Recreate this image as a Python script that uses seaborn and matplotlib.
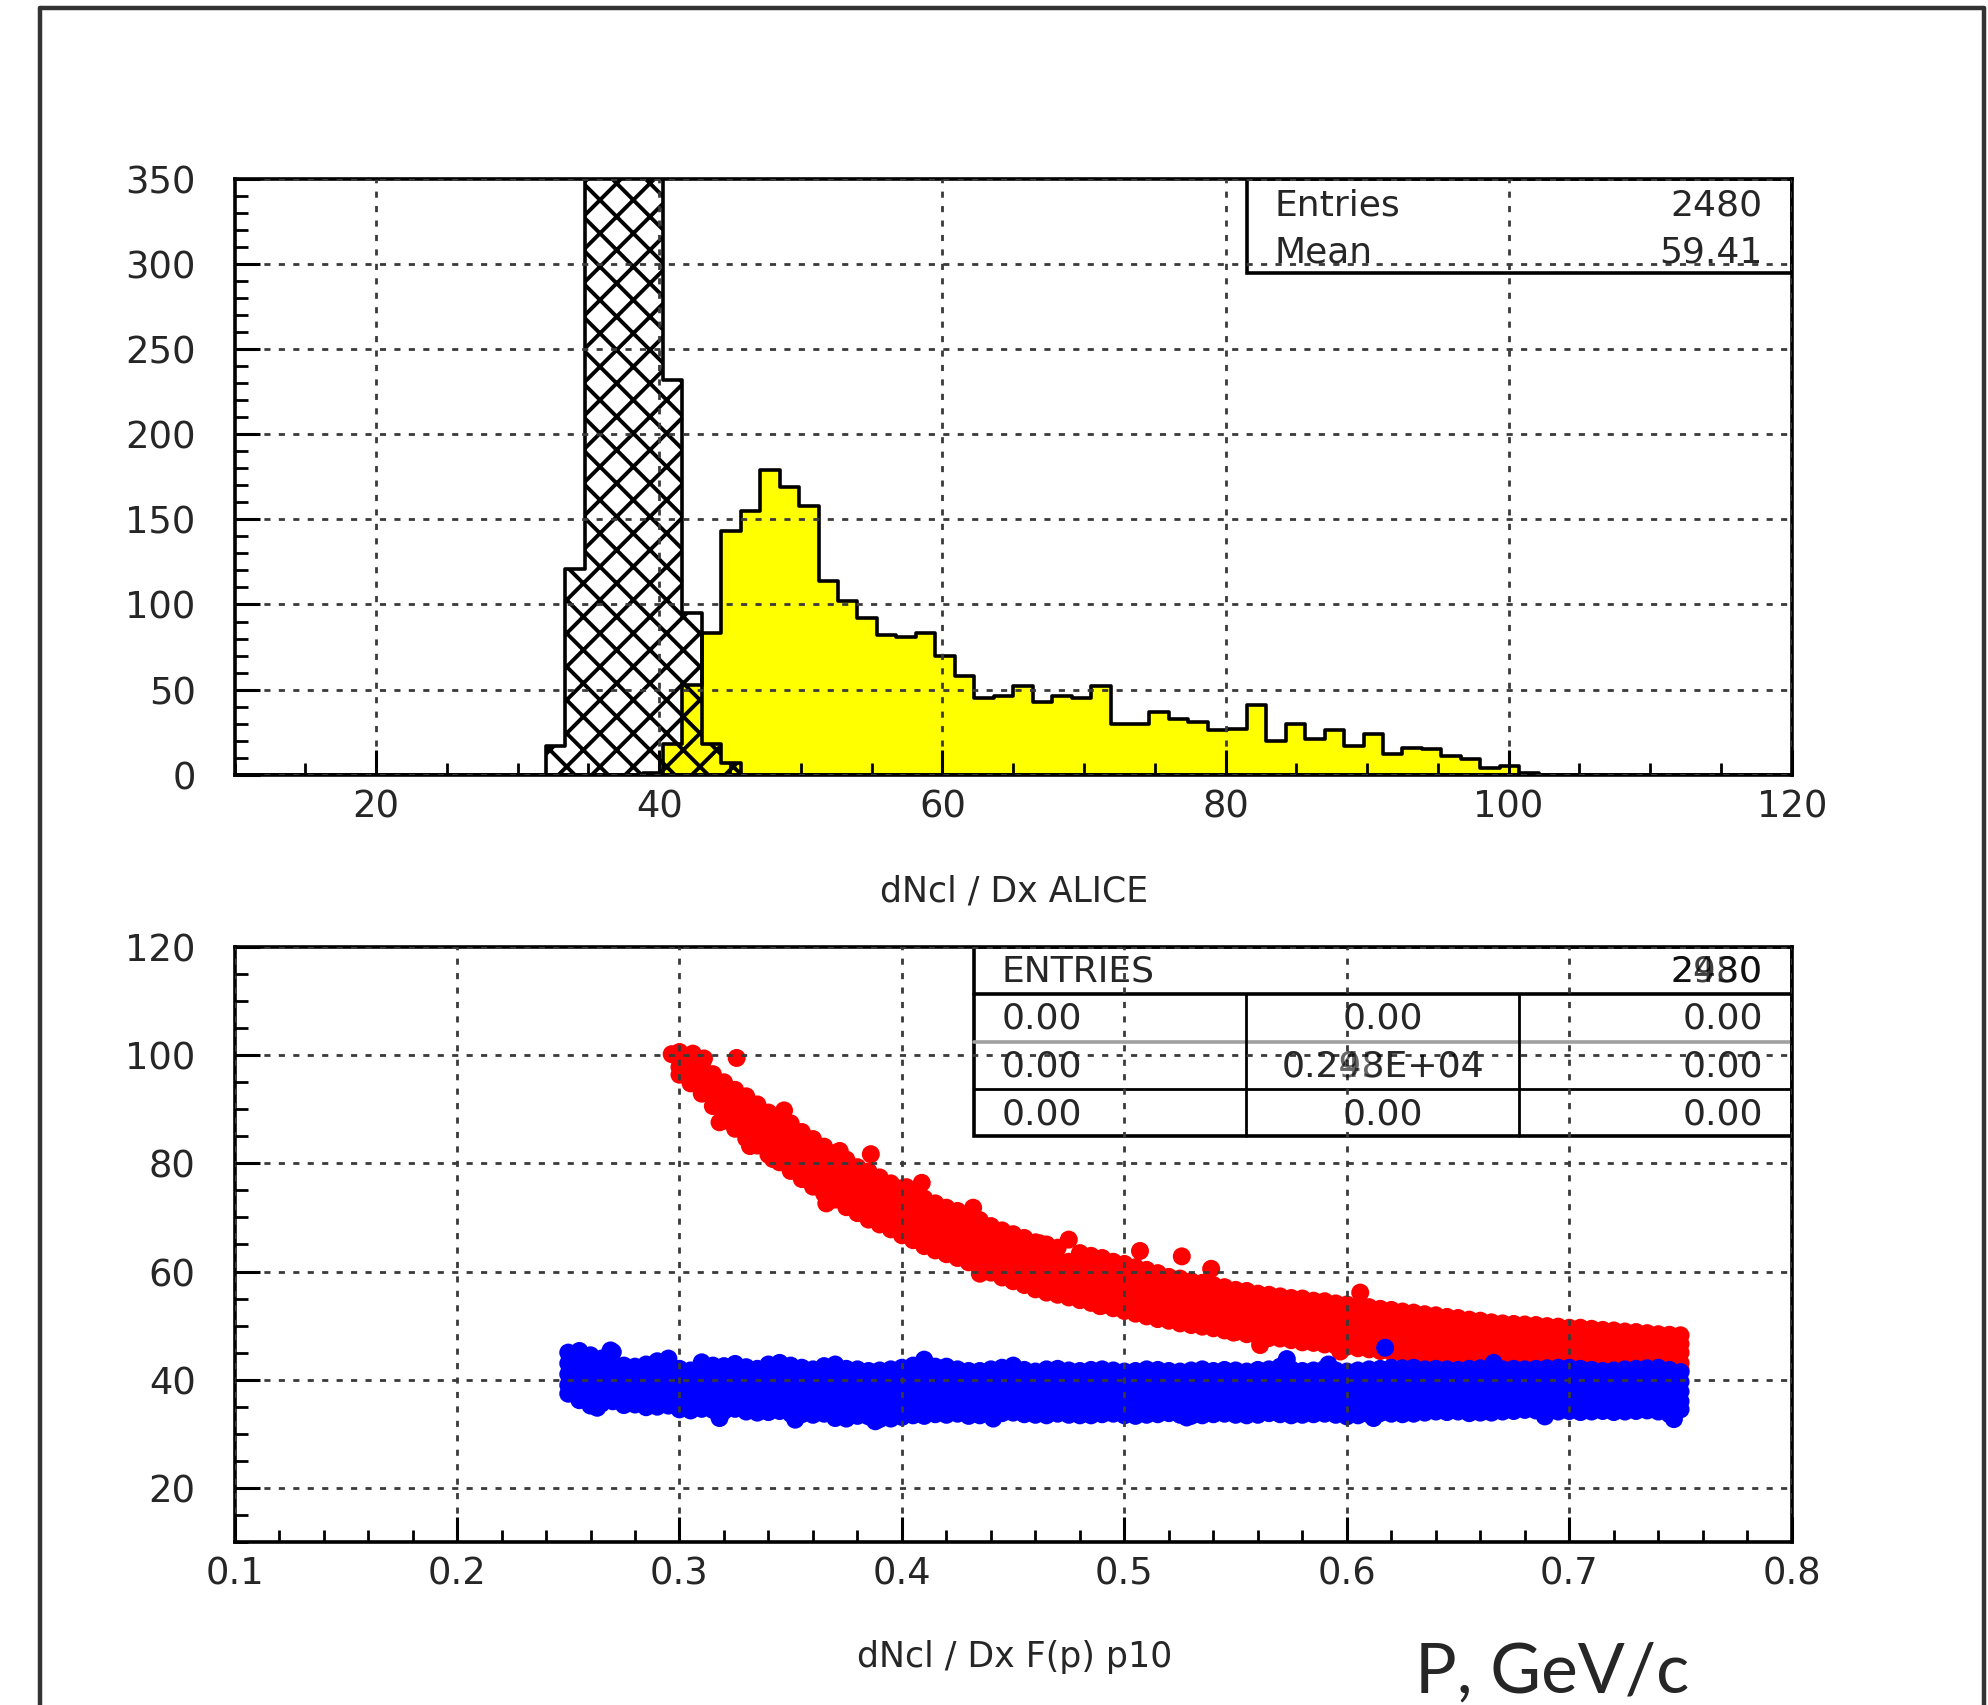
import numpy as np
import pandas as pd
import matplotlib
matplotlib.use("Agg")
import matplotlib.pyplot as plt
from matplotlib.patches import Rectangle
from matplotlib.lines import Line2D
from matplotlib.ticker import MultipleLocator, FormatStrFormatter
import seaborn as sns

sns.set_style("white")
plt.rcParams["font.family"] = ["DejaVu Sans"]
plt.rcParams["hatch.color"] = "black"
plt.rcParams["hatch.linewidth"] = 1.4

# ---------------- histogram data (top panel) ----------------
hist_lo, hist_hi, hist_nbins = 10.0, 120.0, 80
yellow_first_edge = 38.875
yellow_counts = [1, 18, 53, 83, 143, 155, 179, 169, 158, 114,
                 102, 92, 82, 81, 83, 70, 58, 45, 46, 52,
                 43, 46, 45, 52, 30, 30, 37, 33, 31, 26,
                 27, 41, 20, 30, 21, 26, 17, 24, 12, 16,
                 15, 11, 9, 4, 5, 1]
hatch_first_edge = 32.0
hatch_counts = [17, 121, 410, 620, 580, 380, 232, 95, 18, 7]
stats_top_labels = ["Entries", "Mean"]
stats_top_values = ["2480", "59.41"]
top_xticks = [20, 40, 60, 80, 100, 120]
top_yticks = [0, 50, 100, 150, 200, 250, 300, 350]

# ---------------- scatter data (bottom panel) ----------------
red_p = [0.300, 0.305, 0.310, 0.315, 0.320, 0.325, 0.330, 0.335, 0.340, 0.345,
         0.350, 0.355, 0.360, 0.365, 0.370, 0.375, 0.380, 0.385, 0.390, 0.395,
         0.400, 0.405, 0.410, 0.415, 0.420, 0.425, 0.430, 0.435, 0.440, 0.445,
         0.450, 0.455, 0.460, 0.465, 0.470, 0.475, 0.480, 0.485, 0.490, 0.495,
         0.500, 0.505, 0.510, 0.515, 0.520, 0.525, 0.530, 0.535, 0.540, 0.545,
         0.550, 0.555, 0.560, 0.565, 0.570, 0.575, 0.580, 0.585, 0.590, 0.595,
         0.600, 0.605, 0.610, 0.615, 0.620, 0.625, 0.630, 0.635, 0.640, 0.645,
         0.650, 0.655, 0.660, 0.665, 0.670, 0.675, 0.680, 0.685, 0.690, 0.695,
         0.700, 0.705, 0.710, 0.715, 0.720, 0.725, 0.730, 0.735, 0.740, 0.745,
         0.750]
red_y = [
    [100.6, 99.2, 97.8, 96.4], [99.4, 97.9, 96.5, 94.8], [98.1, 96.3, 94.6, 92.9, 95.4],
    [96.5, 94.4, 92.6, 90.6, 93.5], [95.0, 93.1, 91.2, 89.4, 87.9], [93.6, 91.8, 89.9, 88.1, 86.4],
    [92.4, 90.3, 88.6, 86.7, 84.6], [90.9, 88.9, 87.2, 85.1, 83.3], [89.4, 87.6, 85.4, 83.6, 81.6],
    [88.3, 86.1, 84.3, 82.2, 80.2], [87.4, 85.1, 83.0, 80.9, 78.6], [85.8, 83.6, 81.4, 79.5, 77.1],
    [84.5, 82.2, 80.1, 77.8, 75.7], [83.1, 80.9, 78.7, 76.6, 74.4], [81.9, 79.6, 77.6, 75.2, 73.3],
    [80.7, 78.4, 76.1, 74.1, 71.9], [79.3, 77.2, 75.1, 72.8, 70.8], [78.5, 76.1, 73.9, 71.9, 69.6],
    [77.4, 75.2, 73.1, 70.8, 68.7], [76.3, 74.2, 71.9, 69.9, 67.8], [75.4, 73.1, 71.0, 68.8, 66.7],
    [74.3, 72.2, 70.1, 67.7, 65.8], [73.5, 71.1, 68.9, 66.9, 64.7], [72.6, 70.4, 68.3, 66.0, 63.9],
    [71.8, 69.6, 67.4, 65.3, 63.2], [71.2, 68.9, 66.7, 64.6, 62.5], [70.4, 68.2, 66.1, 63.8, 61.7],
    [69.5, 67.1, 65.0, 62.9, 60.6], [68.4, 66.2, 64.1, 61.8, 59.8], [67.6, 65.4, 63.3, 61.0, 58.9],
    [66.9, 64.6, 62.4, 60.4, 58.2], [66.2, 63.9, 61.8, 59.6, 57.5], [65.4, 63.2, 61.1, 58.8, 56.7],
    [65.0, 62.7, 60.4, 58.3, 56.1], [64.4, 62.2, 60.1, 57.8, 55.7], [65.9, 61.8, 59.5, 57.4, 55.2],
    [63.4, 61.2, 59.1, 56.8, 54.7], [62.9, 60.7, 58.4, 56.3, 54.2], [62.5, 60.2, 58.1, 55.8, 53.7],
    [61.8, 59.7, 57.6, 55.4, 53.2], [61.4, 59.1, 57.0, 54.9, 52.7], [60.8, 58.7, 56.4, 54.3, 52.2],
    [60.3, 58.0, 56.0, 53.9, 51.7], [59.7, 57.6, 55.5, 53.3, 51.2], [59.0, 57.1, 55.0, 52.9, 50.9],
    [58.7, 56.6, 54.6, 52.5, 50.4], [58.2, 56.2, 54.1, 52.2, 50.1], [57.9, 55.9, 53.8, 51.8, 49.8],
    [57.5, 55.4, 53.5, 51.5, 49.5], [57.1, 55.1, 53.0, 51.1, 49.1], [56.6, 54.7, 52.8, 50.6, 48.8],
    [56.4, 54.3, 52.3, 50.4, 48.4], [55.9, 54.0, 52.1, 49.9, 48.0], [55.7, 53.6, 51.7, 49.8, 47.7],
    [55.4, 53.5, 51.4, 49.4, 47.6], [55.1, 53.1, 51.2, 49.2, 47.3], [55.0, 52.9, 50.9, 49.0, 46.9],
    [54.6, 52.7, 50.7, 48.6, 46.8], [54.5, 52.4, 50.4, 48.5, 46.5], [54.1, 52.2, 50.2, 48.1, 46.3],
    [53.9, 51.9, 50.0, 48.0, 46.1], [53.6, 51.7, 49.6, 47.7, 45.8], [53.4, 51.4, 49.5, 47.4, 45.6],
    [53.1, 51.2, 49.2, 47.2, 45.3], [52.9, 50.9, 49.0, 47.0, 45.1], [52.6, 50.7, 48.6, 46.8, 44.8],
    [52.4, 50.4, 48.5, 46.5, 44.6], [52.1, 50.2, 48.2, 46.2, 44.3], [51.9, 49.9, 48.0, 46.0, 44.1],
    [51.6, 49.7, 47.7, 45.7, 43.8], [51.4, 49.4, 47.5, 45.5, 43.6], [51.1, 49.2, 47.1, 45.3, 43.3],
    [50.9, 48.9, 47.0, 45.0, 43.1], [50.6, 48.8, 46.9, 44.9, 43.0], [50.4, 48.6, 46.7, 44.8, 42.9],
    [50.3, 48.4, 46.6, 44.7, 42.8], [50.2, 48.4, 46.5, 44.6, 42.7], [50.1, 48.2, 46.4, 44.5, 42.6],
    [49.9, 48.1, 46.2, 44.3, 42.5], [49.8, 48.0, 46.1, 44.2, 42.4], [49.6, 47.8, 46.0, 44.1, 42.3],
    [49.6, 47.7, 45.9, 44.0, 42.2], [49.4, 47.5, 45.7, 43.9, 42.0], [49.2, 47.4, 45.6, 43.8, 41.9],
    [49.1, 47.3, 45.5, 43.7, 41.8], [48.9, 47.1, 45.4, 43.6, 41.7], [48.8, 47.0, 45.3, 43.5, 41.7],
    [48.6, 46.9, 45.2, 43.4, 41.7], [48.4, 46.8, 45.1, 43.3, 41.7], [48.3, 46.7, 45.0, 43.2, 41.7],
    [48.2, 46.6, 45.0, 43.1, 41.8],
]
red_extra_p = [0.2965, 0.306, 0.311, 0.3257, 0.3317, 0.347, 0.386, 0.4089, 0.435,
               0.507, 0.5258, 0.539, 0.561, 0.606, 0.631, 0.657, 0.669,
               0.318, 0.342, 0.366, 0.372, 0.402, 0.432, 0.462, 0.489, 0.549, 0.597]
red_extra_y = [100.2, 100.3, 99.4, 99.5, 83.2, 89.8, 81.7, 76.4, 59.6,
               63.8, 62.8, 60.5, 46.4, 56.1, 44.0, 42.8, 42.2,
               87.6, 80.8, 72.6, 82.3, 75.6, 71.8, 65.2, 53.6, 48.7, 45.2]

blue_p = [0.250, 0.255, 0.260, 0.265, 0.270, 0.275, 0.280, 0.285, 0.290, 0.295,
          0.300, 0.305, 0.310, 0.315, 0.320, 0.325, 0.330, 0.335, 0.340, 0.345,
          0.350, 0.355, 0.360, 0.365, 0.370, 0.375, 0.380, 0.385, 0.390, 0.395,
          0.400, 0.405, 0.410, 0.415, 0.420, 0.425, 0.430, 0.435, 0.440, 0.445,
          0.450, 0.455, 0.460, 0.465, 0.470, 0.475, 0.480, 0.485, 0.490, 0.495,
          0.500, 0.505, 0.510, 0.515, 0.520, 0.525, 0.530, 0.535, 0.540, 0.545,
          0.550, 0.555, 0.560, 0.565, 0.570, 0.575, 0.580, 0.585, 0.590, 0.595,
          0.600, 0.605, 0.610, 0.615, 0.620, 0.625, 0.630, 0.635, 0.640, 0.645,
          0.650, 0.655, 0.660, 0.665, 0.670, 0.675, 0.680, 0.685, 0.690, 0.695,
          0.700, 0.705, 0.710, 0.715, 0.720, 0.725, 0.730, 0.735, 0.740, 0.745,
          0.750]
blue_y = [
    [45.0, 43.0, 41.0, 39.0, 37.4], [44.6, 42.3, 40.3, 38.1, 36.2], [44.5, 42.1, 39.8, 37.6, 35.2],
    [43.9, 41.9, 39.7, 37.8, 35.6], [45.1, 42.2, 40.0, 37.9, 36.0], [42.6, 40.6, 38.8, 36.7, 35.3],
    [42.4, 40.5, 38.6, 36.6, 35.4], [42.8, 40.7, 38.9, 36.8, 34.9], [43.4, 41.2, 39.1, 37.0, 35.0],
    [43.9, 41.5, 39.3, 37.1, 35.2], [42.0, 40.3, 38.5, 36.4, 34.5], [41.7, 39.9, 38.1, 36.2, 34.3],
    [43.2, 41.0, 38.9, 36.7, 34.6], [42.6, 40.5, 38.5, 36.3, 34.4], [42.5, 40.4, 38.3, 36.2, 34.2],
    [42.9, 40.8, 38.7, 36.5, 34.6], [42.3, 40.2, 38.1, 36.0, 34.1], [42.0, 40.0, 38.0, 35.9, 33.9],
    [42.8, 40.6, 38.4, 36.1, 34.0], [43.1, 40.8, 38.5, 36.3, 34.2], [42.6, 40.4, 38.2, 35.9, 33.7],
    [42.2, 40.0, 37.9, 35.7, 33.6], [41.9, 39.8, 37.7, 35.5, 33.5], [42.5, 40.2, 38.0, 35.7, 33.7],
    [42.8, 40.5, 38.1, 35.6, 32.9], [42.0, 39.8, 37.6, 35.2, 32.8], [41.9, 39.7, 37.5, 35.3, 33.3],
    [41.6, 39.5, 37.4, 35.2, 33.2], [41.7, 39.4, 37.2, 35.0, 32.7], [41.9, 39.6, 37.3, 35.0, 32.8],
    [42.2, 39.9, 37.6, 35.4, 33.1], [42.6, 40.2, 37.9, 35.6, 33.4], [43.5, 40.7, 38.1, 35.8, 33.3],
    [42.4, 40.0, 37.8, 35.7, 33.6], [42.4, 40.1, 37.9, 35.6, 33.5], [41.9, 39.7, 37.6, 35.5, 33.7],
    [41.6, 39.5, 37.5, 35.4, 33.3], [41.6, 39.4, 37.4, 35.3, 33.4], [41.9, 39.7, 37.5, 35.5, 33.6],
    [42.2, 39.9, 37.7, 35.6, 33.8], [42.1, 39.9, 37.8, 35.7, 33.9], [41.8, 39.7, 37.6, 35.5, 33.6],
    [41.5, 39.5, 37.5, 35.4, 33.5], [41.9, 39.7, 37.6, 35.4, 33.4], [42.0, 39.8, 37.6, 35.5, 33.7],
    [41.7, 39.6, 37.5, 35.4, 33.5], [41.6, 39.5, 37.4, 35.3, 33.4], [41.8, 39.6, 37.5, 35.4, 33.4],
    [41.9, 39.7, 37.6, 35.5, 33.6], [41.7, 39.6, 37.5, 35.4, 33.7], [41.5, 39.4, 37.4, 35.3, 33.4],
    [41.6, 39.5, 37.4, 35.3, 33.3], [41.9, 39.7, 37.6, 35.5, 33.5], [41.8, 39.6, 37.5, 35.4, 33.6],
    [41.6, 39.5, 37.5, 35.4, 33.8], [41.5, 39.4, 37.4, 35.3, 33.5], [41.7, 39.5, 37.4, 35.2, 33.3],
    [41.9, 39.7, 37.5, 35.4, 33.4], [41.6, 39.5, 37.4, 35.4, 33.6], [41.8, 39.6, 37.5, 35.5, 33.7],
    [41.7, 39.6, 37.5, 35.4, 33.5], [41.5, 39.4, 37.4, 35.3, 33.4], [41.8, 39.6, 37.5, 35.4, 33.5],
    [41.9, 39.8, 37.7, 35.6, 33.8], [42.4, 40.0, 37.8, 35.6, 33.6], [41.9, 39.8, 37.7, 35.5, 33.4],
    [41.6, 39.6, 37.6, 35.5, 33.5], [41.7, 39.6, 37.5, 35.4, 33.6], [42.0, 39.8, 37.7, 35.6, 33.7],
    [41.7, 39.6, 37.6, 35.5, 33.5], [41.5, 39.5, 37.5, 35.4, 33.2], [41.7, 39.6, 37.6, 35.5, 33.4],
    [41.9, 39.8, 37.7, 35.6, 33.6], [42.0, 39.9, 37.8, 35.7, 33.8], [42.2, 40.0, 37.9, 35.8, 33.7],
    [42.1, 40.0, 37.9, 35.7, 33.6], [42.2, 40.1, 38.0, 35.8, 33.7], [41.9, 39.9, 37.9, 35.8, 33.9],
    [42.0, 39.9, 37.9, 35.9, 34.1], [41.9, 39.9, 37.9, 35.8, 34.0], [41.8, 39.8, 37.8, 35.8, 34.1],
    [42.0, 39.9, 37.9, 35.8, 33.8], [42.1, 40.0, 38.0, 35.9, 33.9], [42.0, 39.9, 37.9, 35.8, 33.9],
    [41.9, 39.9, 37.9, 35.9, 34.1], [42.0, 40.0, 38.0, 36.0, 34.2], [41.9, 39.9, 38.0, 36.0, 34.4],
    [42.0, 40.0, 38.0, 36.1, 34.3], [42.1, 40.1, 38.1, 36.0, 34.2], [42.2, 40.1, 38.1, 36.1, 34.1],
    [42.2, 40.2, 38.1, 36.1, 34.2], [42.0, 40.0, 38.0, 36.0, 34.0], [41.8, 39.9, 37.9, 35.9, 34.1],
    [41.6, 39.8, 37.9, 35.9, 34.2], [41.7, 39.8, 37.9, 35.9, 34.0], [41.9, 39.9, 38.0, 36.0, 34.1],
    [42.0, 40.0, 38.0, 36.0, 34.2], [42.1, 40.1, 38.1, 36.1, 34.3], [42.2, 40.1, 38.1, 36.0, 34.1],
    [41.8, 39.9, 37.9, 35.9, 33.6], [41.4, 39.6, 37.8, 36.0, 34.5],
]
blue_extra_p = [0.255, 0.269, 0.263, 0.388, 0.410, 0.450, 0.573, 0.5917, 0.6172, 0.666, 0.747,
                0.318, 0.352, 0.441, 0.528, 0.612, 0.689]
blue_extra_y = [45.3, 45.4, 34.8, 32.3, 43.7, 42.6, 43.8, 42.8, 45.9, 43.1, 32.7,
                32.9, 32.6, 32.8, 33.0, 32.9, 33.2]

bottom_xticks = [0.1, 0.2, 0.3, 0.4, 0.5, 0.6, 0.7, 0.8]
bottom_yticks = [20, 40, 60, 80, 100, 120]
table_entries = ["2480", "2930"]
table_center = ["0.248E+04", "0.293E+04"]

# ---------------- build tables ----------------
bin_w = (hist_hi - hist_lo) / hist_nbins
yellow_df = pd.DataFrame({
    "x": yellow_first_edge + bin_w * (np.arange(len(yellow_counts)) + 0.5),
    "w": yellow_counts})
hatch_df = pd.DataFrame({
    "x": hatch_first_edge + bin_w * (np.arange(len(hatch_counts)) + 0.5),
    "w": hatch_counts})

def points(ps, ys, ex_p, ex_y):
    rows = [(p, y) for p, col in zip(ps, ys) for y in col]
    rows += list(zip(ex_p, ex_y))
    return pd.DataFrame(rows, columns=["p", "y"])

red_df = points(red_p, red_y, red_extra_p, red_extra_y)
blue_df = points(blue_p, blue_y, blue_extra_p, blue_extra_y)

# ---------------- figure ----------------
W, H, DPI = 1988, 1705, 200
fig = plt.figure(figsize=(W / DPI, H / DPI), dpi=DPI)
fig.patch.set_facecolor("white")
ax1 = fig.add_axes([0.1180, 0.5456, 0.7833, 0.3495])
ax2 = fig.add_axes([0.1180, 0.0957, 0.7833, 0.3488])

# top histogram
sns.histplot(data=yellow_df, x="x", weights="w", binwidth=bin_w,
             binrange=(hist_lo, hist_hi), element="step",
             fill=True, color="#FFFF00", alpha=1, edgecolor="black",
             linewidth=1.3, ax=ax1)
sns.histplot(data=hatch_df, x="x", weights="w", binwidth=bin_w,
             binrange=(hist_lo, hist_hi), element="step",
             fill=True, color="white", alpha=1, edgecolor="black",
             linewidth=1.3, ax=ax1)
hcoll = ax1.collections[-1]
hcoll.set_facecolor("none")
hcoll.set_hatch("xx")
hcoll.set_edgecolor("black")

ax1.set_xlim(hist_lo, hist_hi)
ax1.set_ylim(0, 350)
ax1.set_xticks(top_xticks)
ax1.set_yticks(top_yticks)
ax1.xaxis.set_minor_locator(MultipleLocator(5))
ax1.yaxis.set_minor_locator(MultipleLocator(10))

# bottom scatter
sns.scatterplot(data=red_df, x="p", y="y", color="#FF0000", s=42,
                linewidth=0, edgecolor="none", marker="o", ax=ax2)
sns.scatterplot(data=blue_df, x="p", y="y", color="#0000FF", s=42,
                linewidth=0, edgecolor="none", marker="o", ax=ax2)
ax2.set_xlim(0.1, 0.8)
ax2.set_ylim(10, 120)
ax2.set_xticks(bottom_xticks)
ax2.set_yticks(bottom_yticks)
ax2.xaxis.set_major_formatter(FormatStrFormatter("%.1f"))
ax2.xaxis.set_minor_locator(MultipleLocator(0.02))
ax2.yaxis.set_minor_locator(MultipleLocator(5))

for ax in (ax1, ax2):
    ax.set_xlabel("")
    ax.set_ylabel("")
    ax.set_axisbelow(False)
    ax.grid(True, which="major", color="#3a3a3a", linestyle=(0, (2.2, 3.0)),
            linewidth=1.0)
    ax.tick_params(axis="both", which="major", direction="in", length=9,
                   width=1.1, labelsize=13.3, color="black",
                   bottom=True, left=True, top=False, right=False)
    ax.tick_params(axis="both", which="minor", direction="in", length=4.5,
                   width=1.0, color="black",
                   bottom=True, left=True, top=False, right=False)
    ax.tick_params(axis="x", which="major", pad=5)
    ax.tick_params(axis="y", which="major", pad=14)
    for sp in ax.spines.values():
        sp.set_color("black")
        sp.set_linewidth(1.3)

# top stats box
ax1.add_patch(Rectangle((0.65, 0.8426), 0.35, 0.1574, transform=ax1.transAxes,
                        facecolor="white", edgecolor="black", lw=1.3, zorder=2))
for lab, val, yy in zip(stats_top_labels, stats_top_values, [0.9560, 0.8770]):
    ax1.text(0.6677, yy, lab, transform=ax1.transAxes, ha="left", va="center",
             fontsize=13, zorder=3)
    ax1.text(0.9813, yy, val, transform=ax1.transAxes, ha="right", va="center",
             fontsize=13, zorder=3)

# bottom stats table
x0, y0 = 0.4747, 0.6824
ax2.add_patch(Rectangle((x0, y0), 1 - x0, 1 - y0, transform=ax2.transAxes,
                        facecolor="white", edgecolor="black", lw=1.3, zorder=2))
ax2.add_line(Line2D([x0, 1], [0.9211, 0.9211], transform=ax2.transAxes,
                    color="black", lw=1.3, zorder=2.1))
ax2.add_line(Line2D([x0, 1], [0.8401, 0.8401], transform=ax2.transAxes,
                    color="#a0a0a0", lw=1.3, zorder=2.1))
ax2.add_line(Line2D([x0, 1], [0.7612, 0.7612], transform=ax2.transAxes,
                    color="black", lw=1.0, zorder=2.1))
for xx in (0.6498, 0.8249):
    ax2.add_line(Line2D([xx, xx], [y0, 0.9211], transform=ax2.transAxes,
                        color="black", lw=1.0, zorder=2.1))
ax2.text(0.4927, 0.9594, "ENTRIES", transform=ax2.transAxes, ha="left",
         va="center", fontsize=13, zorder=3)
for t in table_entries:
    ax2.text(0.9813, 0.9594, t, transform=ax2.transAxes, ha="right",
             va="center", fontsize=13, color="black", alpha=0.75, zorder=3)
for i, yy in enumerate([0.8806, 0.7996, 0.7186]):
    ax2.text(0.4927, yy, "0.00", transform=ax2.transAxes, ha="left",
             va="center", fontsize=13, zorder=3)
    ax2.text(0.9813, yy, "0.00", transform=ax2.transAxes, ha="right",
             va="center", fontsize=13, zorder=3)
    if i == 1:
        for t in table_center:
            ax2.text(0.7374, yy, t, transform=ax2.transAxes, ha="center",
                     va="center", fontsize=13, color="black", alpha=0.6,
                     zorder=3)
    else:
        ax2.text(0.7374, yy, "0.00", transform=ax2.transAxes, ha="center",
                 va="center", fontsize=13, zorder=3)

# axis titles and annotation
fig.text(0.5103, 0.4772, "dNcl / Dx ALICE", ha="center", va="center",
         fontsize=12.5)
fig.text(0.5103, 0.0280, "dNcl / Dx F(p) p10", ha="center", va="center",
         fontsize=12.5)
fig.text(1415 / W, 1 - 1693 / H, "P, GeV/c", ha="left", va="baseline",
         fontsize=25, family=["Lato", "DejaVu Sans"])

# outer frame
ftop = 1 - 8 / H
fl = 40 / W
fr = 1984 / W
for xs, ys in (([fl, fl], [0, ftop]), ([fl, fr], [ftop, ftop]), ([fr, fr], [0, ftop])):
    fig.add_artist(Line2D(xs, ys, transform=fig.transFigure, color="#333333", lw=1.6))

fig.savefig("out.png", dpi=DPI)
